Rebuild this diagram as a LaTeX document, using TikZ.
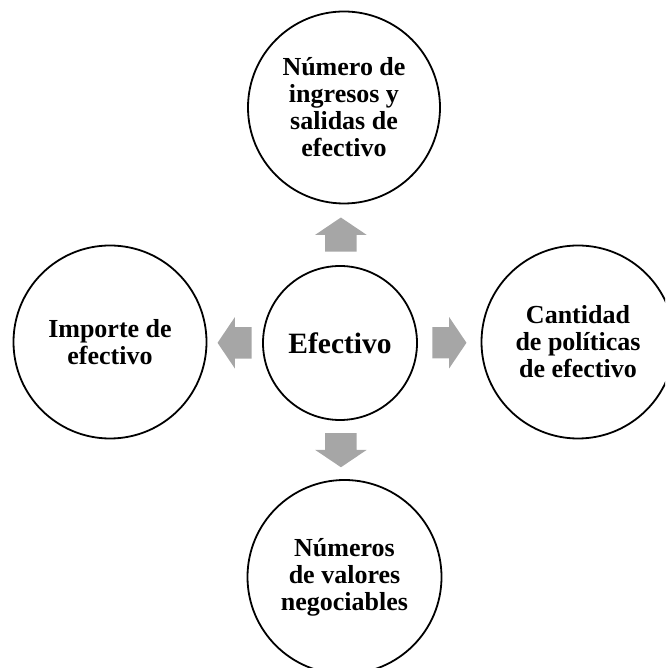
\documentclass[tikz,border=0pt]{standalone}
\usepackage{fontspec}
\setmainfont{Liberation Serif}
\usepackage{tikz}
\usetikzlibrary{shapes.arrows,calc}
\definecolor{flecha}{RGB}{166,166,166}

\begin{document}
\begin{tikzpicture}[x=1pt,y=1pt,
  circulo/.style={draw,circle,line width=1.8pt,inner sep=0pt,align=center,
    font=\bfseries\fontsize{26}{27}\selectfont},
  flechita/.style={single arrow,fill=flecha,draw=none,inner xsep=0pt,inner ysep=15.5pt,
    minimum height=34pt,minimum width=51pt,single arrow head extend=10pt,
    single arrow tip angle=112,anchor=tail}]
\useasboundingbox (0,0) rectangle (665,668);
\clip (0,0) rectangle (665,668);
\node[circulo,minimum size=154pt,font=\bfseries\fontsize{29.5}{31}\selectfont] (efec) at (340,325) {Efectivo};
\node[circulo,minimum size=192pt] (num) at (344,560.5) {Número de\\ingresos y\\salidas de\\efectivo};
\node[circulo,minimum size=193pt] (imp) at (110,326) {Importe de\\efectivo};
\node[circulo,minimum size=193pt] (cant) at (578,326) {Cantidad\\de políticas\\de efectivo};
\node[circulo,minimum size=194pt] (nums) at (344.5,91) {Números\\de valores\\negociables};
\node[flechita,rotate=90] (fup) at ($(efec.north)!0.5!(num.south)!17pt!(efec.north)$) {};
\node[flechita,rotate=180] (fizq) at ($(efec.west)!0.5!(imp.east)!17pt!(efec.west)$) {};
\node[flechita] (fder) at ($(efec.east)!0.5!(cant.west)!17pt!(efec.east)$) {};
\node[flechita,rotate=-90] (fabajo) at ($(efec.south)!0.5!(nums.north)!17pt!(efec.south)$) {};
\end{tikzpicture}
\end{document}
